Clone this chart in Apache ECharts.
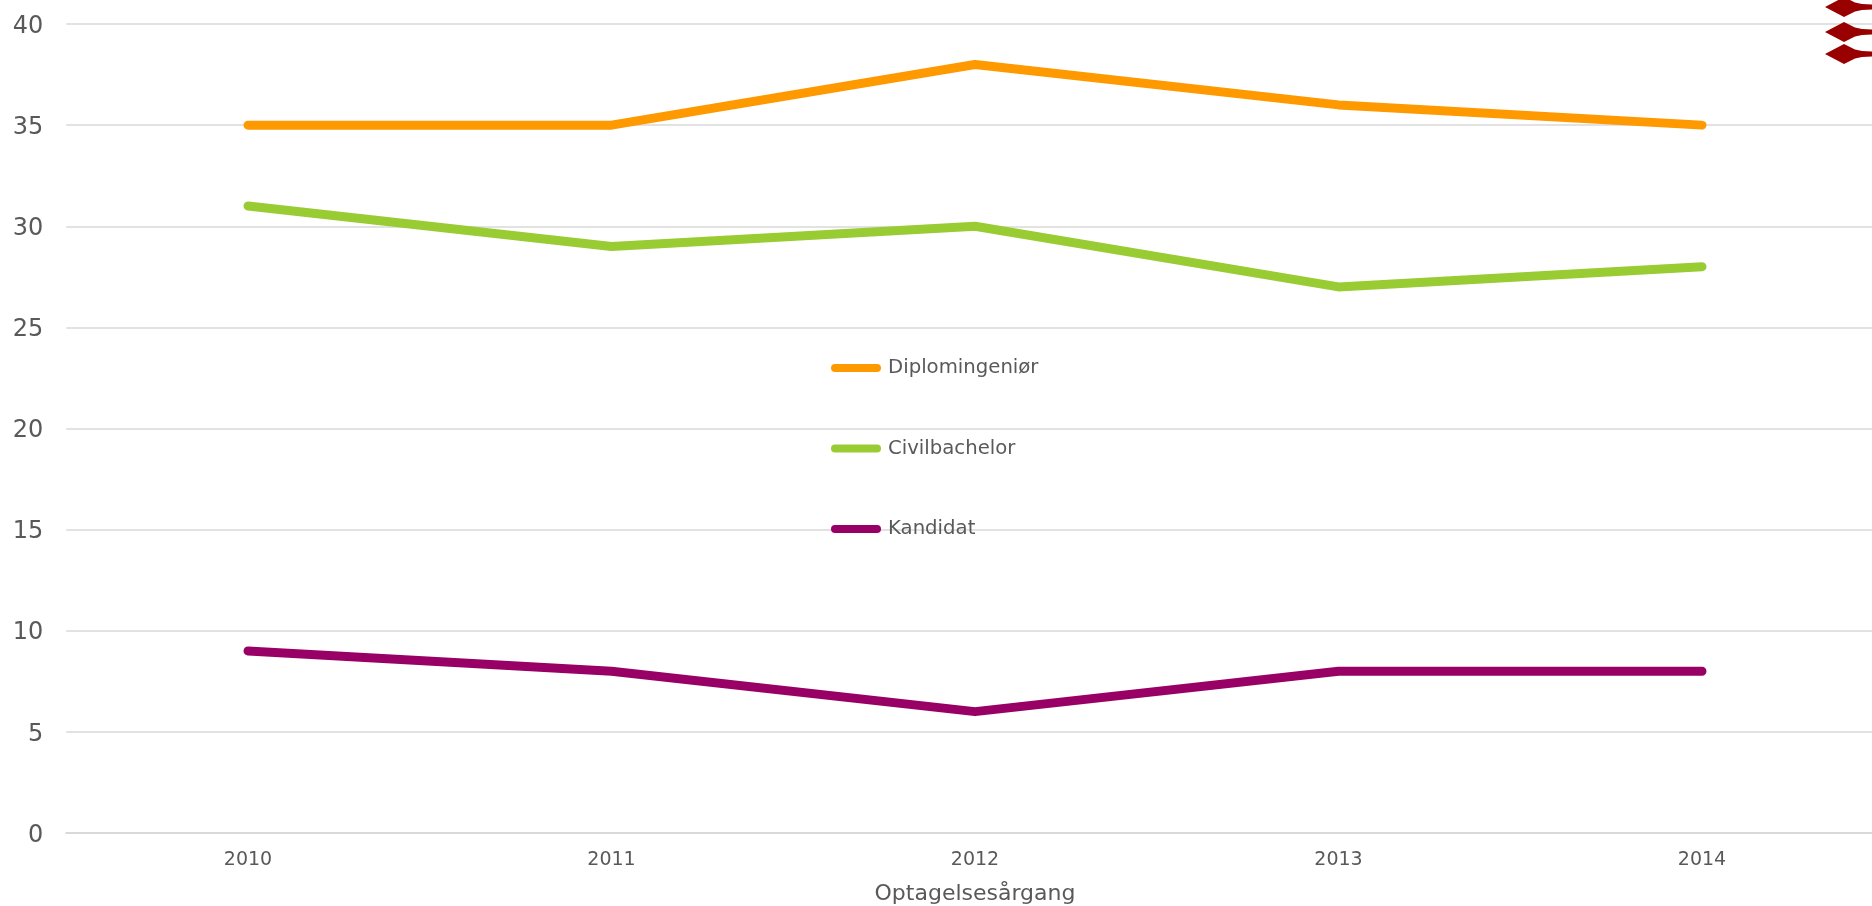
<!DOCTYPE html>
<html><head><meta charset="utf-8">
<style>html,body{margin:0;padding:0;background:#fff;overflow:hidden}#c{width:1872px;height:906px}</style>
<script src="https://cdn.jsdelivr.net/npm/echarts@6/dist/echarts.min.js"></script></head>
<body><div id="c"></div>
<script>
const years = ['2010','2011','2012','2013','2014'];
const diplomingenior = [35,35,38,36,35];
const civilbachelor = [31,29,30,27,28];
const kandidat = [9,8,6,8,8];
const axisTitle = 'Optagelsesårgang';
const FONT = '"DejaVu Sans", sans-serif';
const TXT = '#595959';
const chart = echarts.init(document.getElementById('c'), null, {renderer:'canvas'});
const mk = (name,data,color)=>({name,data,type:'line',symbol:'none',color,z:3,
  lineStyle:{width:9,color,cap:'round',join:'round'}});
const diamond = y => ({type:'polygon',z:10,shape:{points:[[1825,y],[1844,y-10],[1855,y-4.5],[1862,y-3],[1872,y-2.5],[1872,y+2.5],[1862,y+3],[1855,y+4.5],[1844,y+10]]},
  style:{fill:'#990000'}});
chart.setOption({
  animation:false,backgroundColor:'#fff',
  grid:{left:66.25,width:1817.5,top:24,height:809,outerBoundsMode:'none',containLabel:false},
  graphic:[diamond(7),diamond(32),diamond(54)],
  legend:{orient:'vertical',left:826,top:353,itemWidth:50,itemHeight:8,itemGap:60.5,
    icon:'path://M4 0H46A4 4 0 0 1 46 8H4A4 4 0 0 1 4 0Z',
    textStyle:{color:TXT,fontFamily:FONT,fontSize:19.7,padding:[2,0,0,2]},
    data:['Diplomingeniør','Civilbachelor','Kandidat'],z:5,itemStyle:{borderWidth:0}},
  xAxis:{type:'category',data:years,boundaryGap:true,name:axisTitle,nameLocation:'middle',nameGap:50,
    nameTextStyle:{color:TXT,fontFamily:FONT,fontSize:22},
    axisLine:{lineStyle:{color:'#d9d9d9',width:2}},axisTick:{show:false},
    axisLabel:{color:TXT,fontFamily:FONT,fontSize:19,margin:18}},
  yAxis:{type:'value',min:0,max:40,interval:5,axisLine:{show:false},axisTick:{show:false},
    splitLine:{lineStyle:{color:'#d9d9d9',width:1.5}},
    axisLabel:{formatter:'{a|{value}}',margin:23,
      rich:{a:{color:TXT,fontFamily:FONT,fontSize:24,padding:[5,0,0,0]}}}},
  series:[mk('Diplomingeniør',diplomingenior,'#FF9900'),mk('Civilbachelor',civilbachelor,'#99CC33'),mk('Kandidat',kandidat,'#990066')]
});
</script></body></html>
